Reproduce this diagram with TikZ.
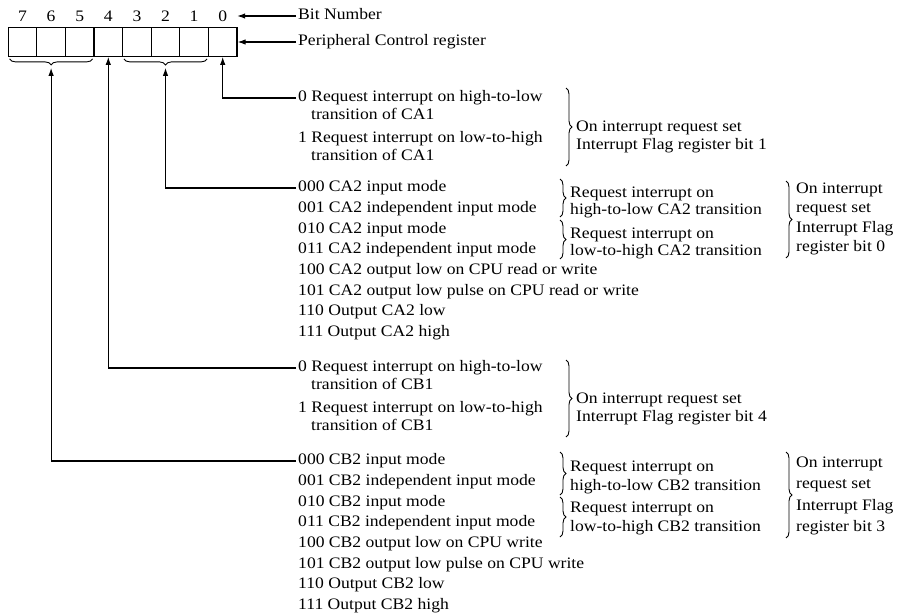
\documentclass[tikz,border=0pt]{standalone}
\usepackage{fontspec}
\setmainfont[FakeStretch=1.1]{Liberation Serif}
\usetikzlibrary{
  positioning,
  arrows.meta,
  decorations.pathreplacing
}
\newcommand{\mainfnt}{\fontsize{16}{19}\selectfont}

\begin{document}
\begin{tikzpicture}[x=1pt, y=-1pt,
  regbit/.style={draw, line width=1.3pt, minimum width=28.6pt, minimum height=28.5pt, inner sep=0pt},
  bitno/.style={minimum width=28.6pt, inner sep=0pt, font=\mainfnt},
  desc/.style={anchor=west, inner sep=2pt, text height=11pt, text depth=3.5pt, font=\mainfnt},
  pointer/.style={line width=1.1pt, -{Latex[length=8pt,width=5.5pt]}},
  curly/.style={decorate, decoration={brace, amplitude=6pt}, line width=0.9pt},
]
  \useasboundingbox (0,0) rectangle (903,616);

  % register and bit numbers
  \foreach \i in {0,...,7} {
    \node[regbit] (b\i) at ({222.7-28.6*\i}, 42) {};
    \node[bitno] (n\i) at ({222.7-28.6*\i}, 16) {\i};
  }
  \node[desc] (bitlbl) at (296,16) {Bit Number};
  \node[desc] (pcrlbl) at (296,42) {Peripheral Control register};
  \draw[pointer] (bitlbl.west) -- (n0.east);
  \draw[pointer] (pcrlbl.west) -- (b0.east);

  % field braces below the register
  \draw[curly] ([shift={(-2pt,-2pt)}]b5.south east) -- ([shift={(2pt,-2pt)}]b7.south west);
  \draw[curly] ([shift={(-2pt,-2pt)}]b1.south east) -- ([shift={(2pt,-2pt)}]b3.south west);
  \coordinate (t75) at ([yshift=-11pt]b6.south);
  \coordinate (t31) at ([yshift=-11pt]b2.south);

  % CA1 control
  \node[desc] (ca1a) at (296,98) {0 Request interrupt on high-to-low};
  \node[desc] (ca1b) at (309,116) {transition of CA1};
  \node[desc] (ca1c) at (296,139) {1 Request interrupt on low-to-high};
  \node[desc] (ca1d) at (309,157) {transition of CA1};
  \draw[curly] (566,88) -- (566,166);
  \node[desc] (ca1f1) at (574,128) {On interrupt request set};
  \node[desc] (ca1f2) at (574,146) {Interrupt Flag register bit 1};

  % CA2 control
  \foreach \txt [count=\k from 0] in {000 CA2 input mode, 001 CA2 independent input mode,
      010 CA2 input mode, 011 CA2 independent input mode,
      100 CA2 output low on CPU read or write, 101 CA2 output low pulse on CPU read or write,
      110 Output CA2 low, 111 Output CA2 high}
    \node[desc] (ca2-\k) at (296, {188+20.7*\k}) {\txt};
  \draw[curly] (560,179) -- (560,217);
  \draw[curly] (560,220) -- (560,259);
  \node[desc] (ca2r1) at (568,194) {Request interrupt on};
  \node[desc] (ca2r2) at (568,211) {high-to-low CA2 transition};
  \node[desc] (ca2r3) at (568,235) {Request interrupt on};
  \node[desc] (ca2r4) at (568,252) {low-to-high CA2 transition};
  \draw[curly] (786,181) -- (786,258);
  \node[desc] (ca2f1) at (794,190) {On interrupt};
  \node[desc] (ca2f2) at (794,209) {request set};
  \node[desc] (ca2f3) at (794,229) {Interrupt Flag};
  \node[desc] (ca2f4) at (794,248) {register bit 0};

  % CB1 control
  \node[desc] (cb1a) at (296,368) {0 Request interrupt on high-to-low};
  \node[desc] (cb1b) at (309,386) {transition of CB1};
  \node[desc] (cb1c) at (296,409) {1 Request interrupt on low-to-high};
  \node[desc] (cb1d) at (309,427) {transition of CB1};
  \draw[curly] (566,360) -- (566,437);
  \node[desc] (cb1f1) at (574,400) {On interrupt request set};
  \node[desc] (cb1f2) at (574,418) {Interrupt Flag register bit 4};

  % CB2 control
  \foreach \txt [count=\k from 0] in {000 CB2 input mode, 001 CB2 independent input mode,
      010 CB2 input mode, 011 CB2 independent input mode,
      100 CB2 output low on CPU write, 101 CB2 output low pulse on CPU write,
      110 Output CB2 low, 111 Output CB2 high}
    \node[desc] (cb2-\k) at (296, {461+20.7*\k}) {\txt};
  \draw[curly] (560,452) -- (560,495);
  \draw[curly] (560,497) -- (560,537);
  \node[desc] (cb2r1) at (568,468) {Request interrupt on};
  \node[desc] (cb2r2) at (568,487) {high-to-low CB2 transition};
  \node[desc] (cb2r3) at (568,509) {Request interrupt on};
  \node[desc] (cb2r4) at (568,528) {low-to-high CB2 transition};
  \draw[curly] (786,452) -- (786,538);
  \node[desc] (cb2f1) at (794,464) {On interrupt};
  \node[desc] (cb2f2) at (794,485) {request set};
  \node[desc] (cb2f3) at (794,507) {Interrupt Flag};
  \node[desc] (cb2f4) at (794,528) {register bit 3};

  % pointers from each field to the register
  \draw[pointer] (ca1a.west) -| (b0.south);
  \draw[pointer] (ca2-0.west) -| (t31);
  \draw[pointer] (cb1a.west) -| (b4.south);
  \draw[pointer] (cb2-0.west) -| (t75);
\end{tikzpicture}
\end{document}
